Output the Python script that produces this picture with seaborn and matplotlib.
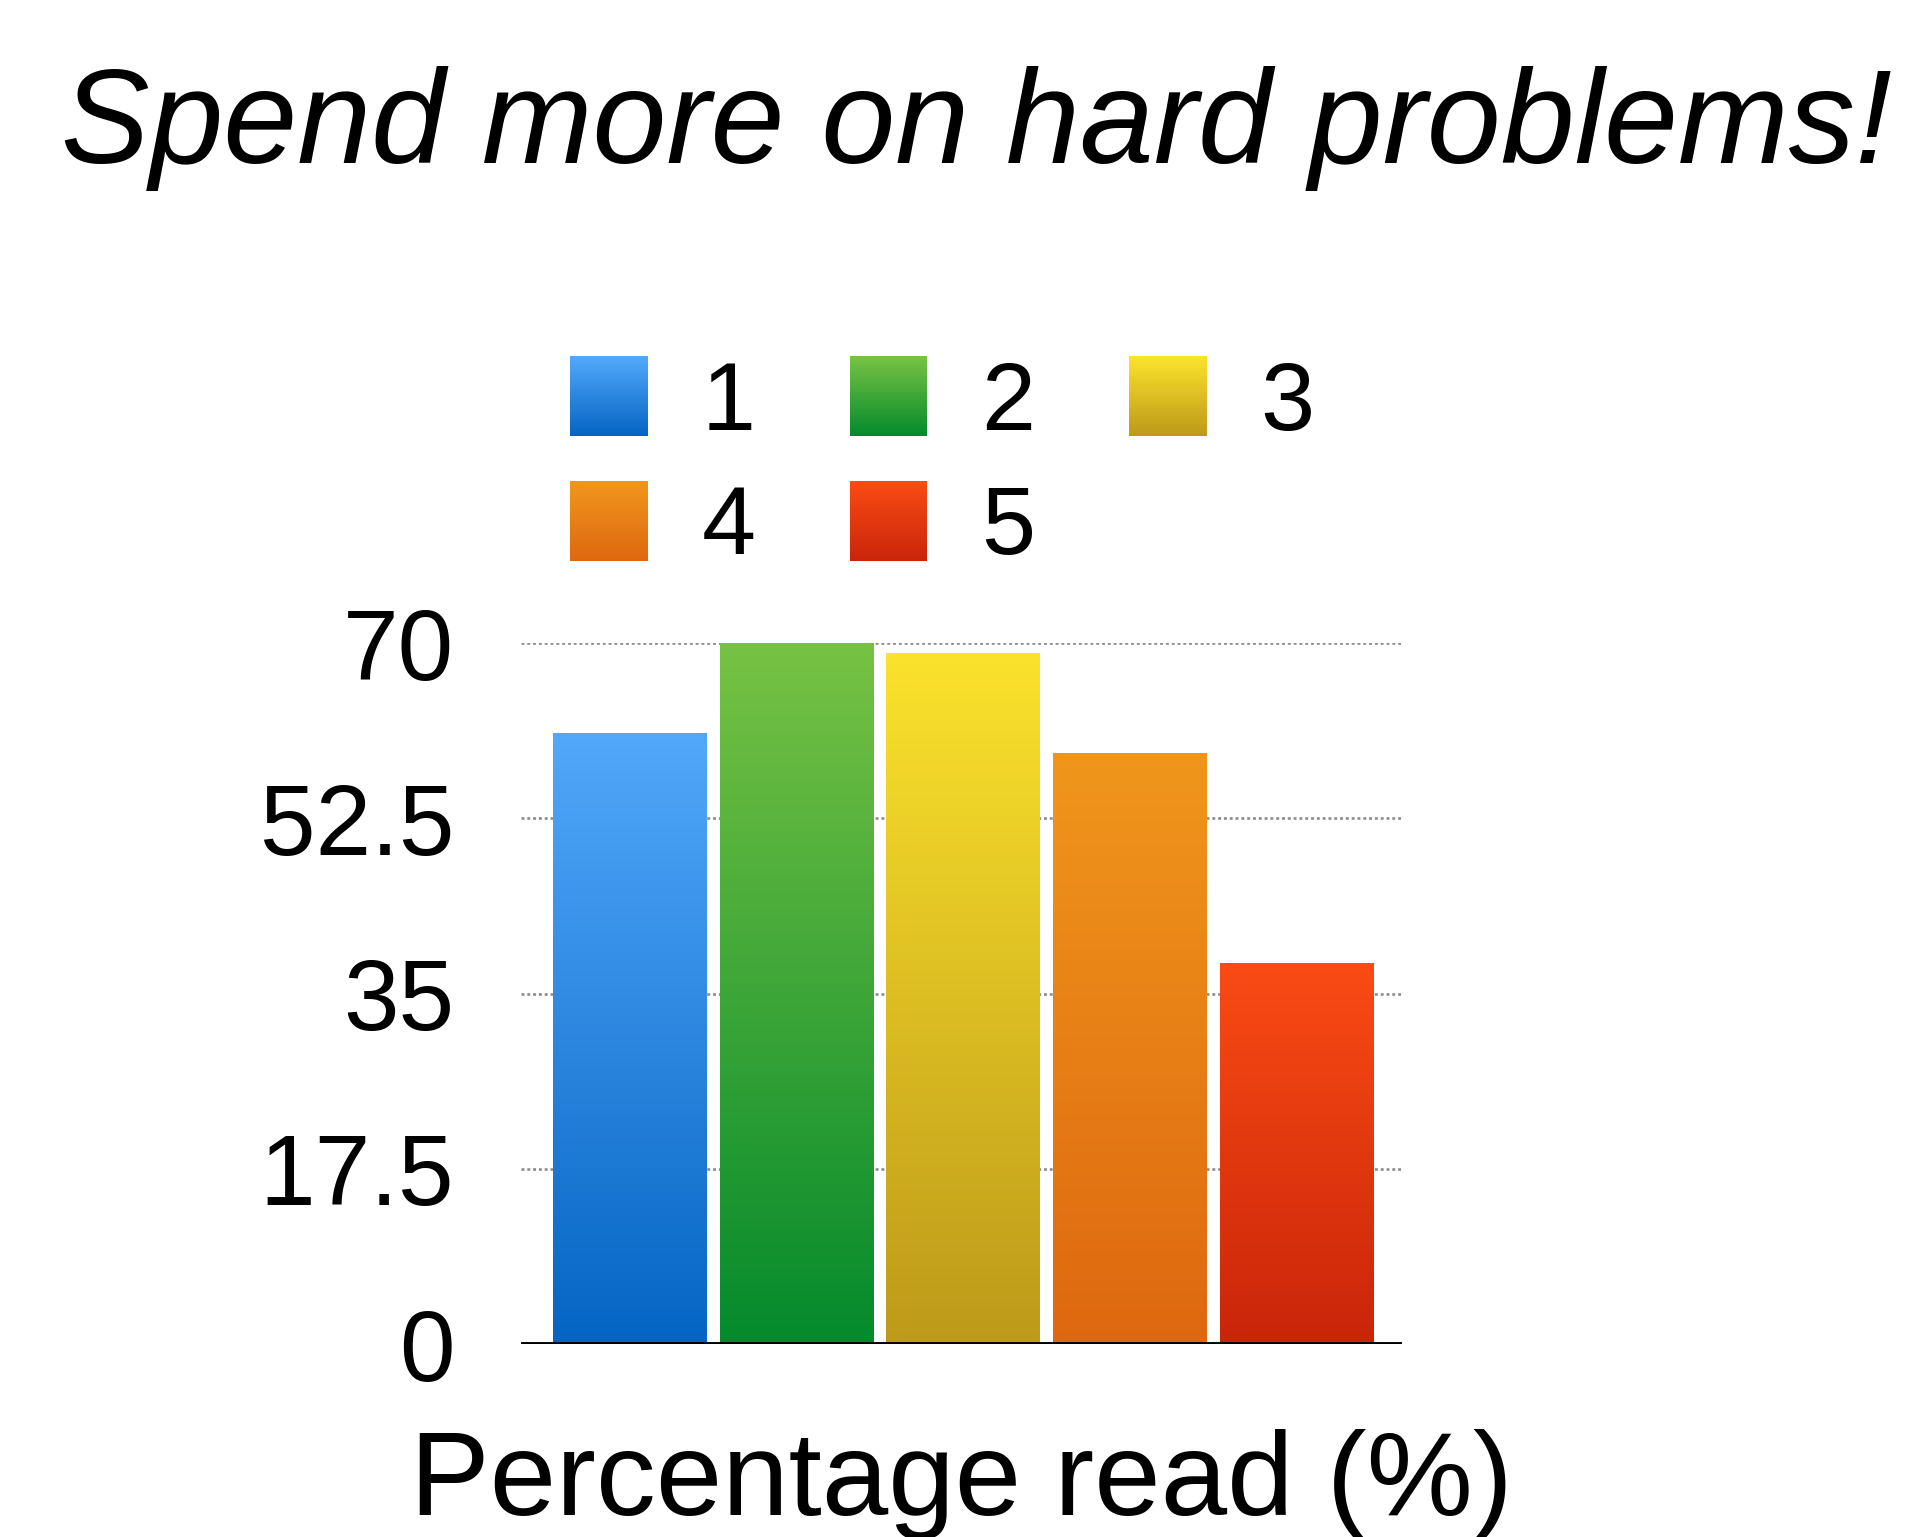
import numpy as np
import pandas as pd
import matplotlib
matplotlib.use("Agg")
import matplotlib.pyplot as plt
import seaborn as sns
from matplotlib.patches import Patch, Rectangle
from matplotlib.legend_handler import HandlerBase
from matplotlib.colors import to_rgb

# Data
groups = ["1", "2", "3", "4", "5"]
read_pct = [61, 70, 69, 59, 38]
top_colors = ["#52A8FA", "#77C244", "#FBE22C", "#F0961C", "#FA4B14"]
bottom_colors = ["#0565C4", "#048A2C", "#BD9A1A", "#DE6810", "#C9250A"]
y_ticks = [0, 17.5, 35, 52.5, 70]
y_tick_labels = ["0", "17.5", "35", "52.5", "70"]

df = pd.DataFrame({"group": groups, "pct": read_pct})

sns.set_theme(style="white")
plt.rcParams["font.family"] = ["Liberation Sans", "DejaVu Sans"]
plt.rcParams["text.color"] = "black"
plt.rcParams["axes.labelcolor"] = "black"
plt.rcParams["ytick.color"] = "black"

W, H, DPI = 1921, 1537, 100
fig = plt.figure(figsize=(W / DPI, H / DPI), dpi=DPI)
ax_left, ax_right, ax_bottom, ax_top = 521, 1402, 1344, 643
ax = fig.add_axes([ax_left / W, 1 - ax_bottom / H,
                   (ax_right - ax_left) / W, (ax_bottom - ax_top) / H])

sns.barplot(data=df, x="group", y="pct", hue="group", palette=top_colors,
            width=0.92, legend=False, ax=ax, zorder=3)


def gradient_rgb(top, bottom, n=256):
    t = np.array(to_rgb(top))
    b = np.array(to_rgb(bottom))
    f = np.linspace(0, 1, n)[:, None]
    return (t * (1 - f) + b * f)[:, None, :]


# Replace flat bar fills with vertical gradients
for patch, top, bottom in zip(ax.patches, top_colors, bottom_colors):
    x0, w, h = patch.get_x(), patch.get_width(), patch.get_height()
    ax.imshow(gradient_rgb(top, bottom), extent=[x0, x0 + w, 0, h],
              aspect="auto", origin="upper", interpolation="bilinear", zorder=3)
    patch.set_facecolor("none")
    patch.set_edgecolor("none")

ax.set_xlim(-0.651, 4.633)
ax.set_ylim(0, 70)
ax.set_yticks(y_ticks)
ax.set_yticklabels(y_tick_labels)
ax.set_xticks([])
ax.tick_params(axis="y", length=0, pad=48, labelsize=72, labelcolor="black")
for s in ax.spines.values():
    s.set_visible(False)

# Dotted horizontal guides and solid baseline
for yv in y_ticks[1:]:
    ax.axhline(yv, color="#8c8c8c", lw=1.9, ls=(0, (1.1, 1.1)), zorder=1)
ax.axhline(0, color="black", lw=2.8, zorder=4)

ax.set_xlabel("Percentage read (%)", fontsize=86, va="baseline", color="black")
ax.xaxis.set_label_coords(0.5, -(1515 - ax_bottom) / (ax_bottom - ax_top))
ax.set_ylabel("")

title = fig.text(976 / W, 1 - 163 / H, "Spend more on hard problems!",
                 fontsize=102, style="italic", ha="center", va="baseline",
                 color="black")
# shrink the title so it spans the intended width
renderer = fig.canvas.get_renderer()
tw = title.get_window_extent(renderer).width
target = 1830
if tw > target:
    title.set_fontsize(102 * target / tw)


class GradientHandler(HandlerBase):
    def __init__(self, grads):
        super().__init__()
        self.grads = grads

    def create_artists(self, legend, orig_handle, xdescent, ydescent,
                       width, height, fontsize, trans):
        top, bottom = self.grads[orig_handle.get_label()]
        t = np.array(to_rgb(top))
        b = np.array(to_rgb(bottom))
        n = 40
        arts = []
        for i in range(n):
            f = i / (n - 1)
            c = b * (1 - f) + t * f
            arts.append(Rectangle((-xdescent, -ydescent + height * i / n),
                                  width, height / n * 1.05,
                                  facecolor=c, edgecolor="none",
                                  transform=trans))
        return arts


grads = {g: (t, b) for g, t, b in zip(groups, top_colors, bottom_colors)}
# legend fills column by column; order entries so rows read 1 2 3 / 4 5
order = [0, 3, 1, 4, 2]
handles = [Patch(label=groups[i]) for i in order]
labels = [groups[i] for i in order]
fig.legend(handles=handles, labels=labels, ncol=3, frameon=False,
           loc="upper left", bbox_to_anchor=(570 / W, 1 - 356 / H),
           fontsize=70, handlelength=0.8, handleheight=0.89,
           handletextpad=0.55, columnspacing=0.97, labelspacing=0.32,
           borderpad=0, borderaxespad=0,
           handler_map={Patch: GradientHandler(grads)})

fig.savefig("out.png", dpi=DPI)
